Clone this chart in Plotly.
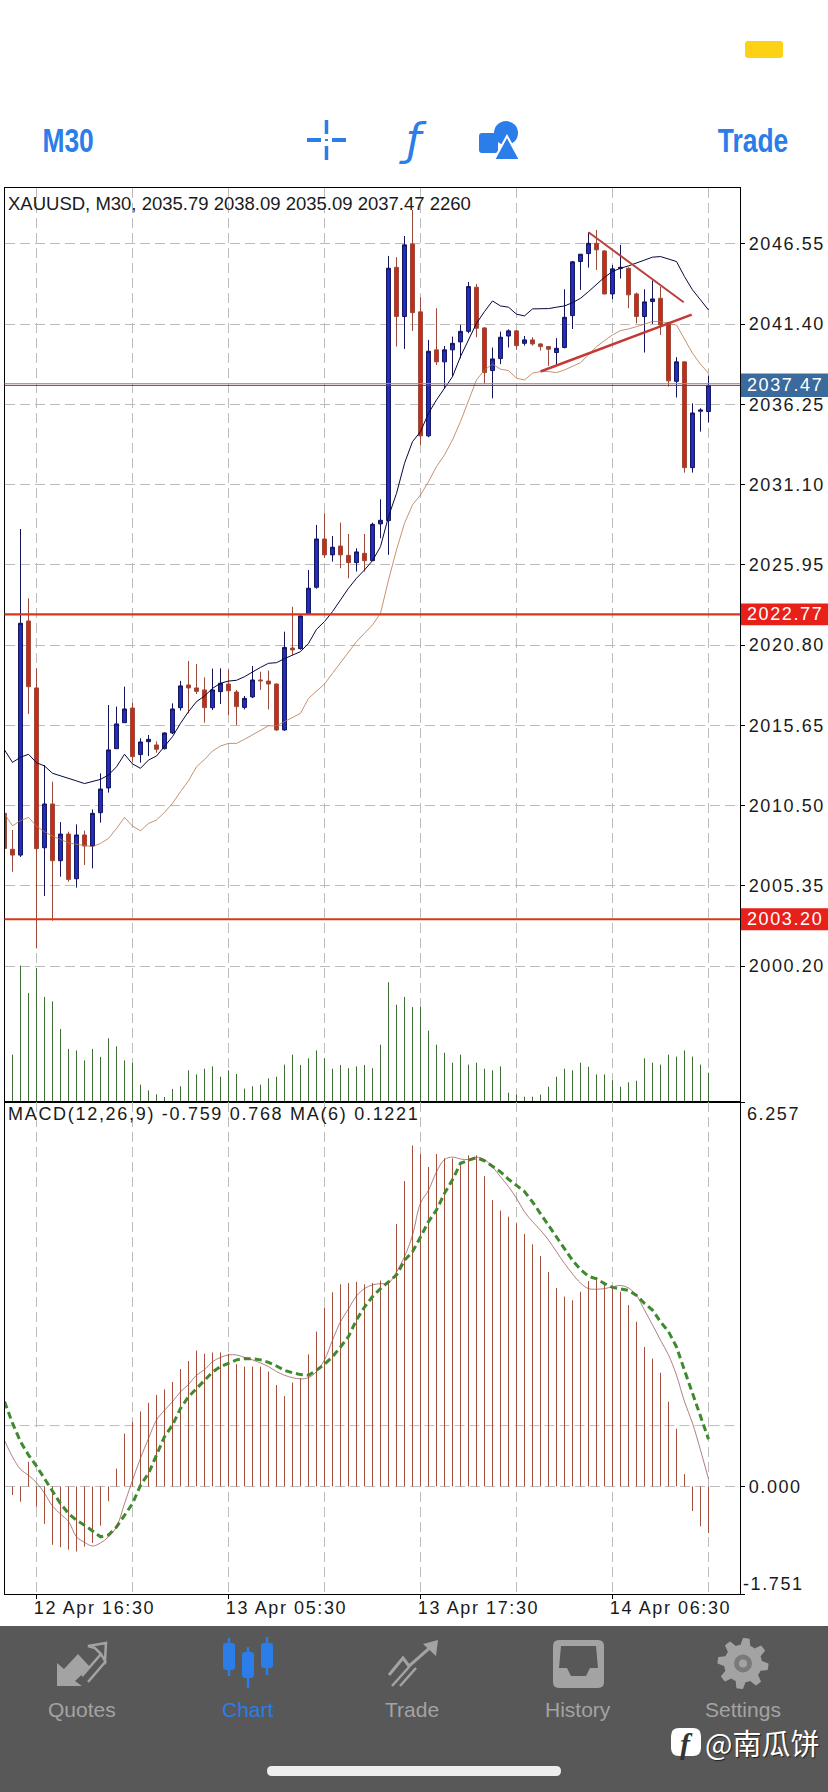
import math
import plotly.graph_objects as go

W, H = 828, 1792

# candles
opens = [2010.00, 2007.69, 2007.32, 2022.35, 2018.05, 2007.79, 2010.60, 2006.96, 2008.67, 2005.80,
         2008.61, 2007.90, 2010.04, 2011.63, 2014.15, 2015.82, 2016.76, 2013.77, 2014.60, 2014.39,
         2014.15, 2015.16, 2016.78, 2018.24, 2018.05, 2017.92, 2016.78, 2017.81, 2018.30, 2017.79,
         2016.80, 2017.47, 2018.56, 2018.49, 2018.30, 2015.35, 2020.61, 2020.57, 2022.80, 2024.51,
         2027.61, 2026.59, 2027.16, 2026.56, 2026.09, 2026.69, 2026.22, 2028.58, 2028.79, 2045.05,
         2041.89, 2046.55, 2042.19, 2034.23, 2039.75, 2038.98, 2039.75, 2040.26, 2040.94, 2043.77,
         2041.16, 2038.42, 2039.19, 2040.64, 2040.97, 2040.17, 2040.39, 2040.13, 2039.96, 2039.58,
         2039.90, 2041.95, 2045.42, 2045.93, 2046.59, 2046.10, 2043.34, 2044.97, 2044.99, 2043.34,
         2041.89, 2042.85, 2043.06, 2041.50, 2037.73, 2038.98, 2032.19, 2035.81, 2035.79]
highs = [2010.20, 2008.93, 2028.25, 2023.80, 2019.31, 2013.10, 2012.03, 2009.44, 2008.82, 2009.29,
         2008.89, 2010.25, 2012.57, 2016.95, 2016.85, 2018.13, 2017.10, 2014.82, 2015.03, 2014.62,
         2015.20, 2017.06, 2018.50, 2019.78, 2019.59, 2018.73, 2019.29, 2019.31, 2019.24, 2017.92,
         2017.53, 2019.46, 2019.09, 2019.16, 2018.34, 2021.66, 2023.26, 2022.70, 2025.62, 2028.51,
         2029.26, 2027.80, 2028.66, 2027.93, 2027.01, 2027.93, 2028.66, 2030.16, 2045.78, 2045.70,
         2047.06, 2048.73, 2043.13, 2040.39, 2042.42, 2040.00, 2040.60, 2041.35, 2044.11, 2043.98,
         2041.20, 2039.90, 2040.92, 2041.07, 2041.00, 2040.64, 2040.56, 2040.18, 2040.00, 2040.50,
         2043.64, 2045.46, 2045.90, 2047.30, 2047.45, 2046.15, 2045.20, 2046.49, 2045.05, 2043.43,
         2043.64, 2044.20, 2043.81, 2041.55, 2039.28, 2039.00, 2036.32, 2036.00, 2038.09]
lows = [2007.50, 2006.25, 2007.20, 2016.38, 2001.33, 2004.69, 2003.11, 2005.93, 2005.61, 2005.23,
        2006.68, 2006.47, 2009.40, 2011.33, 2014.15, 2015.82, 2013.32, 2013.25, 2013.68, 2013.89,
        2014.10, 2015.09, 2016.59, 2016.42, 2017.66, 2015.82, 2016.63, 2017.02, 2016.31, 2015.67,
        2016.67, 2017.40, 2017.92, 2016.67, 2015.30, 2015.30, 2020.17, 2020.50, 2022.80, 2024.42,
        2026.39, 2026.16, 2025.73, 2025.09, 2025.52, 2025.52, 2026.20, 2027.66, 2026.59, 2039.96,
        2039.81, 2040.97, 2033.65, 2034.14, 2038.78, 2037.29, 2038.03, 2039.21, 2040.82, 2040.56,
        2037.56, 2036.64, 2038.83, 2039.90, 2039.75, 2040.02, 2040.02, 2039.70, 2038.72, 2038.78,
        2039.85, 2041.09, 2043.60, 2045.03, 2044.88, 2043.30, 2043.00, 2044.33, 2042.42, 2041.46,
        2039.58, 2041.42, 2040.71, 2037.39, 2036.69, 2031.87, 2031.87, 2034.50, 2035.09]
closes = [2007.75, 2007.32, 2022.20, 2018.13, 2007.73, 2010.60, 2006.96, 2008.67, 2005.76, 2008.61,
          2007.90, 2010.00, 2011.56, 2014.07, 2015.74, 2016.70, 2013.64, 2014.58, 2014.75, 2014.11,
          2015.16, 2016.70, 2018.18, 2018.05, 2017.83, 2016.78, 2017.92, 2018.35, 2017.87, 2016.85,
          2017.38, 2018.56, 2018.51, 2018.30, 2015.35, 2020.65, 2020.49, 2022.67, 2024.45, 2027.61,
          2026.59, 2027.08, 2026.59, 2026.09, 2026.78, 2026.22, 2028.55, 2028.81, 2044.99, 2041.89,
          2046.49, 2042.14, 2034.23, 2039.66, 2038.98, 2039.75, 2040.17, 2040.94, 2043.81, 2041.14,
          2038.29, 2039.17, 2040.56, 2040.97, 2040.02, 2040.39, 2040.13, 2039.96, 2039.79, 2039.85,
          2041.84, 2045.40, 2045.89, 2046.59, 2046.17, 2043.34, 2044.95, 2045.05, 2043.28, 2041.89,
          2042.83, 2043.02, 2041.35, 2037.76, 2038.98, 2032.19, 2035.70, 2035.89, 2037.47]

ma_fast = [2014.07, 2013.27, 2013.60, 2013.79, 2013.25, 2013.04, 2012.57, 2012.42, 2012.25, 2012.08,
           2011.91, 2012.03, 2012.18, 2012.46, 2012.99, 2013.79, 2013.17, 2012.89, 2013.42, 2013.68,
           2014.28, 2014.92, 2015.78, 2016.53, 2017.17, 2017.53, 2018.02, 2018.35, 2018.49, 2018.54,
           2018.77, 2019.09, 2019.37, 2019.63, 2019.67, 2019.93, 2020.13, 2020.38, 2020.91, 2021.81,
           2022.31, 2022.95, 2023.70, 2024.45, 2025.09, 2025.62, 2026.22, 2027.12, 2029.05, 2030.54,
           2032.47, 2033.86, 2034.50, 2035.68, 2036.54, 2037.29, 2038.03, 2039.32, 2040.39, 2041.46,
           2042.21, 2042.89, 2042.57, 2042.49, 2042.04, 2041.93, 2042.38, 2042.38, 2042.40, 2042.49,
           2042.57, 2042.78, 2043.06, 2043.49, 2043.98, 2044.41, 2044.78, 2044.99, 2045.14, 2045.31,
           2045.52, 2045.70, 2045.74, 2045.57, 2045.42, 2044.45, 2043.60, 2042.96, 2042.31]
ma_slow = [2009.95, 2009.20, 2009.53, 2009.74, 2009.18, 2008.82, 2008.54, 2008.33, 2008.11, 2008.01,
           2007.92, 2007.86, 2008.07, 2008.39, 2009.03, 2009.74, 2009.18, 2008.88, 2009.35, 2009.57,
           2010.06, 2010.64, 2011.39, 2012.09, 2012.99, 2013.46, 2014.00, 2014.32, 2014.49, 2014.49,
           2014.75, 2015.03, 2015.35, 2015.62, 2015.62, 2015.88, 2016.14, 2016.42, 2017.38, 2017.81,
           2018.30, 2018.99, 2019.67, 2020.38, 2021.02, 2021.56, 2022.09, 2022.84, 2024.98, 2026.91,
           2028.62, 2029.80, 2030.44, 2031.29, 2032.26, 2033.01, 2033.97, 2035.15, 2036.54, 2037.82,
           2038.46, 2038.83, 2038.51, 2038.42, 2037.93, 2037.82, 2038.25, 2038.36, 2038.36, 2038.29,
           2038.46, 2038.68, 2038.93, 2039.43, 2039.96, 2040.35, 2040.71, 2040.99, 2041.09, 2041.24,
           2041.42, 2041.57, 2041.57, 2041.42, 2041.35, 2040.39, 2039.53, 2038.83, 2038.25]

volumes = [1000, 3650, 10510, 8400, 10330, 8100, 7760, 5630, 4090, 3980,
           3210, 4090, 3470, 4910, 4290, 3210, 3010, 1340, 900, 590,
           390, 1000, 1210, 2440, 2130, 2570, 2750, 1950, 2440, 2160,
           1030, 1210, 1340, 1820, 1950, 2880, 3650, 2850, 3370, 3980,
           3370, 2570, 2850, 2600, 2750, 2850, 2600, 4420, 9230, 7500,
           8100, 7320, 7320, 5500, 4420, 3800, 3030, 3650, 2880, 3030,
           2570, 2440, 2750, 720, 570, 410, 410, 570, 1180, 1950,
           2570, 2440, 3030, 2720, 2130, 2130, 1670, 1180, 1520, 1640,
           3370, 3030, 2880, 3650, 3500, 3980, 3500, 2880, 2260]

macd_hist = [0.00, -0.14, -0.25, 0.40, -0.33, -0.61, -0.95, -0.99, -1.03, -1.06,
             -0.98, -0.92, -0.64, -0.24, 0.29, 0.86, 1.05, 1.22, 1.36, 1.49,
             1.58, 1.70, 1.91, 2.04, 2.21, 2.16, 2.18, 2.18, 2.16, 1.99,
             1.95, 1.95, 1.95, 1.87, 1.65, 1.47, 1.69, 1.76, 2.15, 2.52,
             2.91, 3.16, 3.29, 3.31, 3.33, 3.29, 3.31, 3.35, 3.30, 4.27,
             4.97, 5.55, 5.41, 5.20, 5.41, 5.34, 5.34, 5.23, 5.39, 5.39,
             5.05, 4.66, 4.49, 4.39, 4.28, 4.11, 3.94, 3.75, 3.49, 3.23,
             3.09, 3.03, 3.17, 3.34, 3.41, 3.33, 3.26, 3.17, 2.95, 2.68,
             2.27, 2.08, 1.85, 1.38, 0.94, 0.20, -0.40, -0.65, -0.759]
macd_ma = [0.75, 0.48, 0.28, 0.18, 0.06, -0.11, -0.32, -0.45, -0.57, -0.82,
           -0.91, -0.97, -0.92, -0.82, -0.66, -0.28, 0.10, 0.46, 0.78, 1.08,
           1.24, 1.38, 1.54, 1.66, 1.81, 1.90, 2.03, 2.10, 2.14, 2.14,
           2.10, 2.06, 2.01, 1.95, 1.87, 1.81, 1.77, 1.75, 1.77, 1.87,
           2.06, 2.38, 2.68, 2.89, 3.10, 3.22, 3.28, 3.30, 3.31, 3.49,
           3.74, 4.09, 4.61, 4.82, 5.12, 5.32, 5.36, 5.33, 5.32, 5.36,
           5.32, 5.20, 5.04, 4.88, 4.69, 4.47, 4.31, 4.17, 4.01, 3.82,
           3.63, 3.46, 3.31, 3.22, 3.21, 3.22, 3.25, 3.27, 3.23, 3.11,
           2.87, 2.63, 2.38, 2.14, 1.81, 1.38, 1.03, 0.59, 0.1221]
macd_signal = [1.38, 1.03, 0.73, 0.51, 0.33, 0.13, -0.06, -0.28, -0.44, -0.55,
               -0.63, -0.72, -0.82, -0.79, -0.66, -0.47, -0.28, 0.02, 0.21, 0.51,
               0.81, 1.00, 1.27, 1.46, 1.59, 1.73, 1.86, 1.95, 2.01, 2.06,
               2.08, 2.08, 2.06, 2.02, 1.96, 1.89, 1.85, 1.82, 1.81, 1.89,
               1.99, 2.11, 2.27, 2.44, 2.71, 2.92, 3.09, 3.22, 3.33, 3.44,
               3.68, 3.82, 4.06, 4.31, 4.50, 4.77, 4.99, 5.26, 5.31, 5.35,
               5.30, 5.21, 5.12, 5.00, 4.90, 4.80, 4.63, 4.44, 4.25, 4.04,
               3.85, 3.68, 3.53, 3.42, 3.38, 3.30, 3.24, 3.21, 3.19, 3.11,
               2.98, 2.87, 2.68, 2.52, 2.27, 1.89, 1.51, 1.16, 0.768]

bars = list(range(len(closes)))

price_ticks = [2046.55, 2041.40, 2036.25, 2031.10, 2025.95, 2020.80, 2015.65, 2010.50, 2005.35, 2000.20]
time_ticks = [4, 28, 52, 76]
time_labels = ["12 Apr 16:30", "13 Apr 05:30", "13 Apr 17:30", "14 Apr 06:30"]

trend_down_x, trend_down_y = [73, 84.9], [2047.30, 2042.81]
trend_up_x, trend_up_y = [67, 85.9], [2038.36, 2042.01]

bid_price = 2037.47
ask_price = 2037.58
level_high = 2022.77
level_low = 2003.20

BLUE = "#2b7de9"
GREY = "#a3a3a3"
GRID = "#bcbcbc"
DASH = "10px,5px"
TEXT = "#1a1a1a"
FONT = "Liberation Sans"


def px(v):
    return v / W


def py(v):
    return 1 - v / H


def poly(points, closed=True):
    s = "M " + " L ".join(f"{px(x):.5f},{py(y):.5f}" for x, y in points)
    return s + (" Z" if closed else "")


def rounded(x0, y0, x1, y1, r):
    # rounded rectangle in picture pixels
    a, b, c, d = px(x0), px(x1), py(y0), py(y1)
    rx, ry = r / W, r / H
    return (f"M {a + rx:.5f},{c:.5f} L {b - rx:.5f},{c:.5f} Q {b:.5f},{c:.5f} {b:.5f},{c - ry:.5f} "
            f"L {b:.5f},{d + ry:.5f} Q {b:.5f},{d:.5f} {b - rx:.5f},{d:.5f} "
            f"L {a + rx:.5f},{d:.5f} Q {a:.5f},{d:.5f} {a:.5f},{d + ry:.5f} "
            f"L {a:.5f},{c - ry:.5f} Q {a:.5f},{c:.5f} {a + rx:.5f},{c:.5f} Z")


def solid(path, color):
    return dict(type="path", xref="paper", yref="paper", path=path, fillcolor=color,
                line=dict(width=0), layer="above")


def stroke(points, color, width):
    return dict(type="path", xref="paper", yref="paper", path=poly(points, closed=False),
                line=dict(color=color, width=width), layer="above")


def label(x, y, text, size, color, anchor="center", family=FONT, **kw):
    return dict(xref="paper", yref="paper", x=px(x), y=py(y), text=text, showarrow=False,
                xanchor=anchor, yanchor="middle", align=anchor,
                font=dict(family=family, size=size, color=color, **kw))


def tag(y, text):
    return dict(xref="paper", x=px(745), yref="y", y=y, text=text, showarrow=False, xanchor="left", align="left",
                font=dict(family=FONT, size=18, color="#ffffff"))


def stems(xs, ys):
    # one thin vertical line per bar, from the base line to the value
    sx, sy = [], []
    for x, y in zip(xs, ys):
        sx += [x, x, None]
        sy += [0, y, None]
    return sx, sy


fig = go.Figure()

vol_x, vol_y = stems(bars, volumes)
fig.add_trace(go.Scatter(x=vol_x, y=vol_y, mode="lines", line=dict(color="#3f6b35", width=1), xaxis="x", yaxis="y3"))
fig.add_trace(go.Scatter(x=bars, y=ma_slow, mode="lines", line=dict(color="#b9764a", width=0.8), xaxis="x", yaxis="y"))
fig.add_trace(go.Candlestick(
    x=bars, open=opens, high=highs, low=lows, close=closes, xaxis="x", yaxis="y", whiskerwidth=0,
    increasing=dict(line=dict(color="#14145a", width=1), fillcolor="#1f2fc4"),
    decreasing=dict(line=dict(color="#9a4a38", width=1), fillcolor="#c9291b"),
))
fig.add_trace(go.Scatter(x=bars, y=ma_fast, mode="lines", line=dict(color="#06063c", width=1), xaxis="x", yaxis="y"))
fig.add_trace(go.Scatter(x=trend_down_x, y=trend_down_y, mode="lines", line=dict(color="#b8413a", width=2),
                         xaxis="x", yaxis="y"))
fig.add_trace(go.Scatter(x=trend_up_x, y=trend_up_y, mode="lines", line=dict(color="#c23a36", width=2.5),
                         xaxis="x", yaxis="y"))

hist_x, hist_y = stems(bars, macd_hist)
fig.add_trace(go.Scatter(x=hist_x, y=hist_y, mode="lines", line=dict(color="#a5503c", width=1), xaxis="x2", yaxis="y2"))
fig.add_trace(go.Scatter(x=bars, y=macd_signal, mode="lines", line=dict(color="#3f8a2f", width=3, dash="7px,4px"),
                         xaxis="x2", yaxis="y2"))
fig.add_trace(go.Scatter(x=bars, y=macd_ma, mode="lines", line=dict(color="#8a4a48", width=0.7, shape="spline"),
                         xaxis="x2", yaxis="y2"))

x_range = [0, (740 - 4.5) / 8]
x_domain = [px(4.5), px(740)]
minor_grid = dict(tick0=4, dtick=12, showgrid=True, gridcolor=GRID, griddash=DASH, gridwidth=1, ticklen=0)

shapes = [
    # price lines
    dict(type="line", xref="paper", x0=px(4.5), x1=px(740), yref="y", y0=ask_price, y1=ask_price,
         line=dict(color="#d9746e", width=1)),
    dict(type="line", xref="paper", x0=px(4.5), x1=px(740), yref="y", y0=bid_price, y1=bid_price,
         line=dict(color="#4a4a70", width=1)),
    dict(type="line", xref="paper", x0=px(4.5), x1=px(740), yref="y", y0=level_high, y1=level_high,
         line=dict(color="#d9361a", width=2.2)),
    dict(type="line", xref="paper", x0=px(4.5), x1=px(740), yref="y", y0=level_low, y1=level_low,
         line=dict(color="#d9361a", width=2.2)),
    # extra MACD grid line
    dict(type="line", xref="paper", x0=px(4.5), x1=px(740), yref="y2", y0=0.99, y1=0.99, layer="below",
         line=dict(color=GRID, width=1, dash=DASH)),
    # price tags
    dict(type="rect", xref="paper", x0=px(741), x1=px(828), yref="y", y0=bid_price - 0.74, y1=bid_price + 0.76,
         fillcolor="#3a6b9c", line=dict(width=0), layer="above"),
    dict(type="rect", xref="paper", x0=px(741), x1=px(828), yref="y", y0=level_high - 0.70, y1=level_high + 0.70,
         fillcolor="#e8201a", line=dict(width=0), layer="above"),
    dict(type="rect", xref="paper", x0=px(741), x1=px(828), yref="y", y0=level_low - 0.70, y1=level_low + 0.70,
         fillcolor="#e8201a", line=dict(width=0), layer="above"),
    # status bar battery
    solid(rounded(745, 41, 783, 58, 3), "#fdd116"),
    # crosshair
    stroke([(307, 140), (321, 140)], BLUE, 4),
    stroke([(332, 140), (346, 140)], BLUE, 4),
    stroke([(326.5, 120), (326.5, 134)], BLUE, 3.5),
    stroke([(326.5, 146), (326.5, 160)], BLUE, 3.5),
    stroke([(325, 140), (328, 140)], BLUE, 2),
    # objects icon
    solid(rounded(479, 133, 498, 153, 3), BLUE),
    dict(type="circle", xref="paper", yref="paper", x0=px(494), x1=px(518), y0=py(121), y1=py(145),
         fillcolor=BLUE, line=dict(width=0), layer="above"),
    dict(type="path", xref="paper", yref="paper", path=poly([(507, 136), (494, 160), (520, 160)]),
         fillcolor=BLUE, line=dict(color="#ffffff", width=2), layer="above"),
    # tab bar
    dict(type="rect", xref="paper", yref="paper", x0=0, x1=1, y0=0, y1=py(1626), fillcolor="#585858",
         line=dict(width=0), layer="above"),
    # quotes icon
    solid(poly([(57, 1686), (57, 1663), (64, 1669), (78, 1654), (90, 1667), (75, 1681), (82, 1686)]), GREY),
    stroke([(82, 1676), (101, 1654), (95, 1648), (88, 1646), (106, 1643), (105, 1661), (101, 1654)], GREY, 2.5),
    stroke([(88, 1682), (106, 1661)], GREY, 2.5),
    # chart icon
    stroke([(229, 1638), (229, 1676)], BLUE, 2.5),
    stroke([(248, 1647), (248, 1688)], BLUE, 2.5),
    stroke([(267, 1637), (267, 1675)], BLUE, 2.5),
    solid(rounded(223, 1643, 235, 1670, 3), BLUE),
    solid(rounded(242, 1652, 254, 1678, 3), BLUE),
    solid(rounded(261, 1643, 273, 1668, 3), BLUE),
    # trade icon
    stroke([(389, 1675), (403, 1658), (409, 1666), (433, 1645)], GREY, 3),
    solid(poly([(423, 1644), (438, 1640), (436, 1656)]), GREY),
    stroke([(392, 1686), (409, 1667)], GREY, 2.5),
    stroke([(400, 1686), (416, 1668)], GREY, 2.5),
    # history icon
    solid(rounded(553, 1640, 604, 1688, 6), GREY),
    solid(poly([(561, 1646), (596, 1646), (598, 1668), (590, 1668), (586, 1676), (571, 1676),
                (567, 1668), (559, 1668)]), "#585858"),
    # settings icon
    dict(type="path", xref="paper", yref="paper", line=dict(width=0), fillcolor=GREY, layer="above",
         path=poly([(743 + r * math.cos(a * math.pi / 24), 1663.5 + r * math.sin(a * math.pi / 24))
                    for a, r in zip(range(48), ([25.5] * 3 + [19] * 3) * 8)])),
    dict(type="circle", xref="paper", yref="paper", x0=px(734), x1=px(752), y0=py(1654.5), y1=py(1672.5),
         fillcolor="#7a7a7a", line=dict(width=0), layer="above"),
    dict(type="circle", xref="paper", yref="paper", x0=px(739), x1=px(747), y0=py(1659.5), y1=py(1667.5),
         fillcolor=GREY, line=dict(width=0), layer="above"),
    # home indicator
    solid(rounded(267, 1766, 561, 1776, 5), "#eeeeee"),
    # watermark logo
    solid(rounded(671, 1728, 701, 1756, 8), "#ffffff"),
]

annotations = [
    label(6, 204, "XAUUSD, M30, 2035.79 2038.09 2035.09 2037.47 2260", 18.5, TEXT, "left"),
    label(6, 1114, "MACD(12,26,9) -0.759 0.768 MA(6) 0.1221", 18, TEXT, "left"),
    label(745, 1114, "6.257", 18, TEXT, "left"),
    label(741, 1584, "-1.751", 18, TEXT, "left"),
    tag(bid_price, "2037.47"),
    tag(level_high, "2022.77"),
    tag(level_low, "2003.20"),
    label(68, 141, "<b>M30</b>", 33, BLUE),
    label(753, 141, "<b>Trade</b>", 33, BLUE),
    label(413, 139, "ƒ", 44, BLUE, family="DejaVu Sans", style="italic"),
    label(82, 1709, "Quotes", 21, GREY),
    label(248, 1709, "Chart", 21, BLUE),
    label(412, 1709, "Trade", 21, GREY),
    label(578, 1709, "History", 21, GREY),
    label(743, 1709, "Settings", 21, GREY),
    label(686, 1743, "<b><i>f</i></b>", 30, "#333333", family="Liberation Serif"),
    label(703, 1742, "@南瓜饼", 29, "#ffffff", "left", family="Noto Sans CJK SC", shadow="1px 1px 1px #222222"),
]

fig.update_layout(
    width=W,
    height=H,
    margin=dict(l=0, r=0, t=0, b=0, pad=0),
    paper_bgcolor="#ffffff",
    plot_bgcolor="#ffffff",
    showlegend=False,
    font=dict(family=FONT, size=18, color=TEXT),
    shapes=shapes,
    annotations=annotations,
    xaxis=dict(domain=x_domain, range=x_range, anchor="y", tickvals=time_ticks, showticklabels=False, ticks="",
               showgrid=True, gridcolor=GRID, griddash=DASH, gridwidth=1, minor=minor_grid,
               rangeslider=dict(visible=False), showline=True, linecolor="#000000", linewidth=1.2, mirror=True,
               zeroline=False),
    xaxis2=dict(domain=x_domain, range=x_range, anchor="y2", tickvals=time_ticks, ticktext=time_labels,
                ticks="outside", ticklen=4, tickcolor="#000000", tickfont=dict(family=FONT, size=18, color=TEXT),
                ticklabelshift=58, ticklabelstandoff=-7, ticklabeloverflow="allow", tickangle=0,
                showgrid=True, gridcolor=GRID, griddash=DASH, gridwidth=1, minor=minor_grid,
                showline=True, linecolor="#000000", linewidth=1.2, mirror=True, zeroline=False),
    yaxis=dict(domain=[py(1102), py(188)], range=[1991.47, 2050.14], anchor="x", side="right",
               tickvals=price_ticks, ticktext=[f"{v:.2f}" for v in price_ticks], ticks="outside", ticklen=4,
               tickcolor="#000000", tickfont=dict(family=FONT, size=18, color=TEXT), showgrid=True,
               gridcolor=GRID, griddash=DASH, gridwidth=1, showline=True, linecolor="#000000", linewidth=1.2,
               mirror=True, zeroline=False),
    yaxis2=dict(domain=[py(1594), py(1102)], range=[-1.751, 6.257], anchor="x2", side="right",
                tickvals=[-1.751, 0, 6.257], ticktext=["", "0.000", ""], ticks="outside", ticklen=4,
                tickcolor="#000000", tickfont=dict(family=FONT, size=18, color=TEXT), showgrid=True,
                gridcolor=GRID, griddash=DASH, gridwidth=1, showline=True, linecolor="#000000", linewidth=1.2,
                mirror=True, zeroline=False),
    yaxis3=dict(domain=[py(1102), py(188)], range=[0, 70470], overlaying="y", anchor="x", visible=False),
)

# no letter spacing in plotly fonts, and the blue header words are a condensed face
post = """
document.body.style.margin = '0';
var s = document.createElement('style');
s.textContent = '[class*="tick"] text, text[data-unformatted="6.257"],'
  + 'text[data-unformatted="-1.751"], text[data-unformatted="2037.47"], text[data-unformatted="2022.77"],'
  + 'text[data-unformatted="2003.20"] {letter-spacing: 1.6px;}'
  + 'text[data-unformatted^="MACD"] {letter-spacing: 1.7px;}'
  + 'text[style*="font-size: 33px"] {transform-box: fill-box; transform-origin: center; transform: scaleX(0.8);}';
document.head.appendChild(s);
"""
fig.write_html("out.html", config=dict(displayModeBar=False), post_script=post)
